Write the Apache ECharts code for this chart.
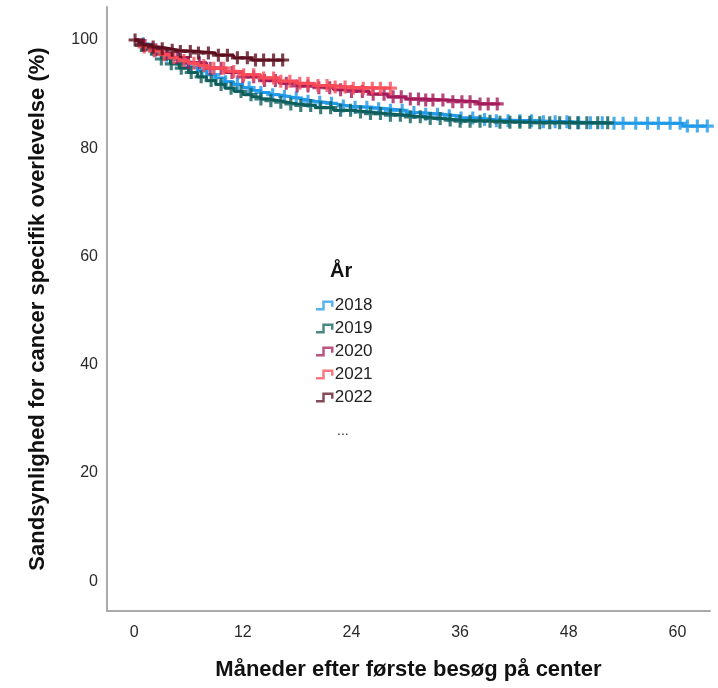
<!DOCTYPE html>
<html>
<head>
<meta charset="utf-8">
<script src="https://cdn.jsdelivr.net/npm/echarts@6/dist/echarts.min.js"></script>
<style>
  html, body { margin: 0; padding: 0; background: #fff; }
  #chart { width: 718px; height: 688px; }
</style>
</head>
<body>
<div id="chart"></div>
<script>
// Kaplan-Meier step curves: [month, survival %] at each drop
const years = ['2018', '2019', '2020', '2021', '2022'];

const steps2018 = [[0,100],[0.5,99.3],[1.2,98.7],[2,98.0],[3,97.2],[4,96.4],[5,95.6],[6,95.0],[7,94.3],[8,93.6],[9,93.0],[10,92.3],[11,91.8],[12,91.2],[13,90.7],[14,90.3],[15,89.9],[16,89.6],[17,89.3],[18,89.0],[19,88.7],[20,88.5],[21,88.3],[22,88.0],[23,87.8],[24,87.6],[26,87.3],[28,87.0],[30,86.6],[32,86.3],[34,86.0],[36,85.6],[38,85.3],[40,85.1],[44,84.9],[48,84.7],[52,84.6],[60.6,84.1]];
const steps2019 = [[0,100],[0.5,99.0],[1,98.3],[2,97.4],[3,96.5],[4,95.6],[5,94.8],[6,94.0],[7,93.2],[8,92.5],[9,91.8],[10,91.1],[11,90.5],[12,89.9],[13,89.5],[14,89.1],[15,88.8],[16,88.5],[17,88.2],[18,87.9],[20,87.5],[22,87.0],[24,86.7],[26,86.4],[28,86.1],[30,85.8],[32,85.5],[34,85.2],[36,85.0],[40,84.8],[44,84.7]];
const steps2020 = [[0,100],[1,99.0],[2,98.2],[3,97.5],[4,96.8],[6,95.8],[8,94.8],[10,94.0],[12,93.2],[14,92.5],[16,92.0],[18,91.5],[20,91.2],[22,90.8],[24,90.5],[26,90.0],[28,89.5],[30,89.1],[32,88.9],[35,88.6],[38,88.2]];
const steps2021 = [[0,100],[0.5,99.2],[1,98.7],[2,98.0],[3,97.3],[4,96.7],[5,96.2],[6,95.7],[7,95.3],[8,94.8],[10,94.2],[12,93.6],[14,93.0],[16,92.4],[18,92.0],[20,91.6],[22,91.3],[24,91.1]];
const steps2022 = [[0,100],[0.5,99.5],[1,99.1],[2,98.7],[3,98.4],[4,98.1],[5,97.9],[7,97.6],[9,97.2],[11,96.7],[13,96.3]];

// Last follow-up month of each cohort
const endMonths = [63.3, 52.6, 40.4, 28.4, 16.6];

// Censored observations (months)
const censor2018 = [1.0,2.3,3.6,4.9,6.2,7.5,8.8,10.1,11.4,12.7,14.0,15.3,16.6,17.9,19.2,20.5,21.8,23.1,24.4,25.7,27.0,28.3,29.6,30.9,32.2,33.5,34.8,36.1,37.4,38.7,40.0,41.3,42.6,43.9,45.2,46.5,47.8,49.1,50.4,51.7,53.0,54.0,55.4,56.7,57.9,59.2,60.3,61.1,62.2,63.3];
const censor2019 = [0.8,1.9,3.0,4.1,5.2,6.3,7.4,8.5,9.6,10.7,11.8,12.9,14.0,15.1,16.2,17.3,18.4,19.5,20.6,21.7,22.8,23.9,25.0,26.1,27.2,28.3,29.4,30.5,31.6,32.7,33.8,34.9,36.0,37.1,38.2,39.3,40.4,41.5,42.6,43.7,44.8,45.9,47.0,48.1,49.0,50.0,51.2,52.3];
const censor2020 = [1.2,2.4,3.6,4.8,6.0,7.2,8.4,9.6,10.8,12.0,13.2,14.4,15.6,16.8,18.0,19.2,20.4,21.6,22.8,24.0,25.2,26.4,27.6,28.6,29.5,30.5,31.4,32.2,33.0,34.1,35.2,36.2,37.1,38.2,39.1,40.1];
const censor2021 = [1.1,2.2,3.3,4.4,5.5,6.6,7.7,8.8,9.9,11.0,12.1,13.2,14.3,15.4,16.2,17.2,18.3,19.2,20.3,21.3,22.2,23.3,24.2,25.3,26.3,27.2,28.3];
const censor2022 = [0.1,1.0,2.1,3.1,4.2,5.1,6.2,7.1,8.2,9.3,10.3,11.4,12.5,13.4,14.3,15.4,16.4];

const xTickLabels = [0, 12, 24, 36, 48, 60];
const yTickLabels = [0, 20, 40, 60, 80, 100];

const colors = ['#1f99e8', '#0e5f5c', '#a41a5a', '#fa4b57', '#5c0f1f'];
const stepSets = [steps2018, steps2019, steps2020, steps2021, steps2022];
const censorSets = [censor2018, censor2019, censor2020, censor2021, censor2022];

// Survival value at a given month
function valueAt(steps, m) {
  let v = steps[0][1];
  for (const [t, s] of steps) { if (t <= m) v = s; else break; }
  return v;
}

const plusSymbol = 'path://M3.8,0H6.2V3.8H10V6.2H6.2V10H3.8V6.2H0V3.8H3.8Z';
const stepIcon = 'path://M0,6H5V0H14V5H12V2H7V8H0Z';
const font = '"Liberation Sans", Arial, sans-serif';

const series = [];
years.forEach((y, i) => {
  const steps = stepSets[i];
  const line = steps.concat([[endMonths[i], steps[steps.length - 1][1]]]);
  series.push({
    name: y, type: 'line', step: 'end', data: line,
    showSymbol: false, symbol: 'none',
    lineStyle: { color: colors[i], width: 2.8 },
    itemStyle: { color: colors[i] },
    z: 2 + i, animation: false
  });
  series.push({
    name: y, type: 'scatter',
    data: censorSets[i].map(m => [m, valueAt(steps, m)]),
    symbol: plusSymbol, symbolSize: 13,
    itemStyle: { color: colors[i] },
    z: 2 + i, animation: false
  });
});

const chart = echarts.init(document.getElementById('chart'), null, { renderer: 'canvas' });
chart.setOption({
  backgroundColor: '#fff',
  animation: false,
  grid: { left: 107, right: 8, top: 7, bottom: 77, containLabel: false },
  title: {
    text: 'År', left: 325, top: 256,
    textStyle: { fontFamily: font, fontSize: 20, fontWeight: 'bold', color: '#111' }
  },
  legend: {
    orient: 'vertical', left: 311, top: 292,
    itemGap: 6, itemWidth: 18, itemHeight: 10,
    icon: stepIcon,
    data: years.map((y, i) => ({ name: y, itemStyle: { color: colors[i], opacity: 0.75 } })),
    textStyle: { fontFamily: font, fontSize: 17, color: '#222', padding: [0, 0, 0, -4] }
  },
  graphic: [{
    type: 'text', left: 337, top: 424,
    style: { text: '...', font: '14px ' + font, fill: '#333' }
  }],
  xAxis: {
    type: 'value', min: -3, max: 63.6,
    name: 'Måneder efter første besøg på center',
    nameLocation: 'middle', nameGap: 48,
    nameTextStyle: { fontFamily: font, fontSize: 22, fontWeight: 'bold', color: '#111' },
    axisLine: { show: true, onZero: false, lineStyle: { color: '#aaaaaa', width: 2 } },
    axisTick: { show: false },
    splitLine: { show: false },
    axisLabel: {
      customValues: xTickLabels, margin: 14,
      fontFamily: font, fontSize: 16, color: '#2a2a2a'
    }
  },
  yAxis: {
    type: 'value', min: -5.5, max: 106.1,
    name: 'Sandsynlighed for cancer specifik overlevelse (%)',
    nameLocation: 'middle', nameGap: 58, nameRotate: 90,
    nameTextStyle: { fontFamily: font, fontSize: 22, fontWeight: 'bold', color: '#111' },
    axisLine: { show: true, onZero: false, lineStyle: { color: '#aaaaaa', width: 2 } },
    axisTick: { show: false },
    splitLine: { show: false },
    axisLabel: {
      customValues: yTickLabels, margin: 9,
      fontFamily: font, fontSize: 16, color: '#2a2a2a'
    }
  },
  series: series
});
</script>
</body>
</html>
